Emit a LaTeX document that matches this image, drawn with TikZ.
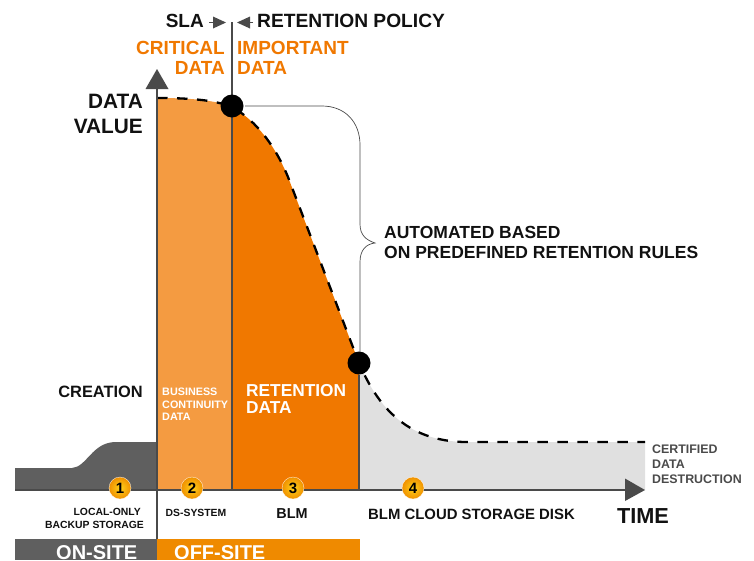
\documentclass[tikz,border=0pt]{standalone}
\usepackage{fontspec}
\setmainfont{Liberation Sans}
\definecolor{ora}{HTML}{F07800}
\definecolor{lora}{HTML}{F49B41}
\definecolor{bar}{HTML}{EF8A00}
\definecolor{dk}{HTML}{5F5F5F}
\definecolor{axc}{HTML}{4A4A4A}
\definecolor{lg}{HTML}{E0E0E0}
\definecolor{txt}{HTML}{111111}
\definecolor{bin}{HTML}{FFD21A}
\definecolor{bout}{HTML}{F09000}
\tikzset{
 lab/.style={font=\bfseries\fontsize{#1}{#1}\selectfont,text=txt,inner sep=0pt,align=center},
 lab/.default=17,
 blk/.style={font=\bfseries\fontsize{19}{20}\selectfont,inner sep=0pt},
 sm/.style={font=\bfseries\fontsize{10.4}{12.5}\selectfont,text=txt,inner sep=0pt},
 badge/.style={circle,minimum size=22pt,inner sep=0pt,draw=white,line width=.3pt,inner color=bin,outer color=bout,font=\bfseries\fontsize{15}{15}\selectfont,text=black},
 axisline/.style={draw=axc,line width=1.4pt},
 tri/.style={fill=axc,draw=none},
 dashc/.style={draw=black,line width=2.3pt,dash pattern=on 10.5pt off 9.5pt},
 dot/.style={circle,fill=black,minimum size=23pt,inner sep=0pt}
}
\begin{document}
\begin{tikzpicture}[x=1pt,y=-1pt]
\useasboundingbox (0,0) rectangle (754,560);
% fills
\fill[lg] (359,363) .. controls (375,400) and (402,442) .. (467,442) -- (645,442) -- (645,490) -- (359,490) -- cycle;
\fill[lora] (157,98) .. controls (190,98) and (215,100) .. (232,107) -- (232,490) -- (157,490) -- cycle;
\fill[ora] (232,107) .. controls (250,117) and (272,138) .. (288,177) -- (359,363) -- (359,490) -- (232,490) -- cycle;
\fill[dk] (15,468) -- (72,468) .. controls (87,467) and (92,442) .. (116,442) -- (157,442) -- (157,490) -- (15,490) -- cycle;
\fill[dk] (15,539) rectangle (157,560);
\fill[bar] (157,539) rectangle (360,560);
% dashed curve
\draw[dashc] (157,98) .. controls (190,98) and (215,100) .. (232,107) .. controls (250,117) and (272,138) .. (288,177) -- (359,363) .. controls (375,400) and (402,442) .. (467,442) -- (645,442);
% axes
\coordinate (origin) at (157,539);
\coordinate (ytop) at (157,86);
\coordinate (xend) at (628,490);
\coordinate (xstart) at (15,490);
\coordinate (divtop) at (232,22);
\coordinate (divbot) at (232,490);
\coordinate (botline) at (359,490);
\draw[axisline] (origin) -- (ytop);
\draw[axisline] (xstart) -- (xend);
\draw[draw=axc,line width=1.2pt] (divtop) -- (divbot);
\fill[tri] (157,69) -- (168.5,89) -- (145.5,89) -- cycle;
\fill[tri] (645,490) -- (625,478.5) -- (625,501) -- cycle;
\node[dot] (d1) at (232,106) {};
\node[dot] (d2) at (359,363) {};
\draw[axisline] (d2) -- (botline);
% brace
\coordinate (bracestart) at (245,106);
\coordinate (bracetip) at (375,243);
\draw[draw=axc,line width=.7pt] (bracestart) -- (322,106) .. controls (345,106) and (360,122) .. (360,145) -- (360,224) .. controls (360,235) and (366,240) .. (bracetip) .. controls (366,244) and (360,250) .. (360,262) -- (360,352);
% top
\node[lab=19,anchor=east] (sla) at (204,21) {SLA};
\node[lab=19.2,anchor=west] (ret) at (257,21) {RETENTION POLICY};
\coordinate (s0) at (209,22.5);
\coordinate (r0) at (253,22.5);
\draw[draw=axc,line width=1.2pt] (s0) -- (216,22.5);
\fill[tri] (226,22.5) -- (213,16.5) -- (213,28.5) -- cycle;
\draw[draw=axc,line width=1.2pt] (r0) -- (247,22.5);
\fill[tri] (237,22.5) -- (250,16.5) -- (250,28.5) -- cycle;
\node[blk,text=ora,anchor=north east,align=right] (crit) at (225,41) {CRITICAL\\DATA};
\node[blk,text=ora,anchor=north west,align=left] (imp) at (237,41) {IMPORTANT\\DATA};
\node[anchor=north east,align=right,inner sep=0pt,text=txt,font=\bfseries\fontsize{20.8}{25}\selectfont] (val) at (143,94) {DATA\\VALUE};
\node[lab=16.4,anchor=east] (cre) at (143,392) {CREATION};
\node[anchor=north west,inner sep=0pt,align=left,text=white,font=\bfseries\fontsize{10.8}{12.5}\selectfont] (bcd) at (162,388) {BUSINESS\\CONTINUITY\\DATA};
\node[anchor=north west,inner sep=0pt,align=left,text=white,font=\bfseries\fontsize{17.3}{17}\selectfont] (rd) at (246,384) {RETENTION\\DATA};
\node[anchor=north west,align=left,inner sep=0pt,text=txt,font=\bfseries\fontsize{17.5}{20}\selectfont] (auto) at (384,226) {AUTOMATED BASED\\ON PREDEFINED RETENTION RULES};
\node[anchor=north west,inner sep=0pt,align=left,text=axc,font=\bfseries\fontsize{12.4}{15}\selectfont] (cdd) at (652,445) {CERTIFIED\\DATA\\DESTRUCTION};
% badges
\node[badge] (b1) at (120,488) {1};
\node[badge] (b2) at (192,488) {2};
\node[badge] (b3) at (293,488) {3};
\node[badge] (b4) at (413,488) {4};
% labels below
\node[sm,anchor=north east,align=right] (lo) at (144,508.5) {LOCAL-ONLY\hspace*{3pt}\\BACKUP STORAGE};
\node[sm] (ds) at (196,513) {DS-SYSTEM};
\node[lab=14.4] (blm) at (292,514) {BLM};
\node[lab=14.9] (cloud) at (471.5,514) {BLM CLOUD STORAGE DISK};
\node[lab=21.7] (time) at (643,516) {TIME};
\node[anchor=west,inner sep=0pt,text=white,font=\bfseries\fontsize{20}{20}\selectfont] (on) at (56,553) {ON-SITE};
\node[anchor=west,inner sep=0pt,text=white,font=\bfseries\fontsize{20}{20}\selectfont] (off) at (174,553) {OFF-SITE};
\end{tikzpicture}
\end{document}
